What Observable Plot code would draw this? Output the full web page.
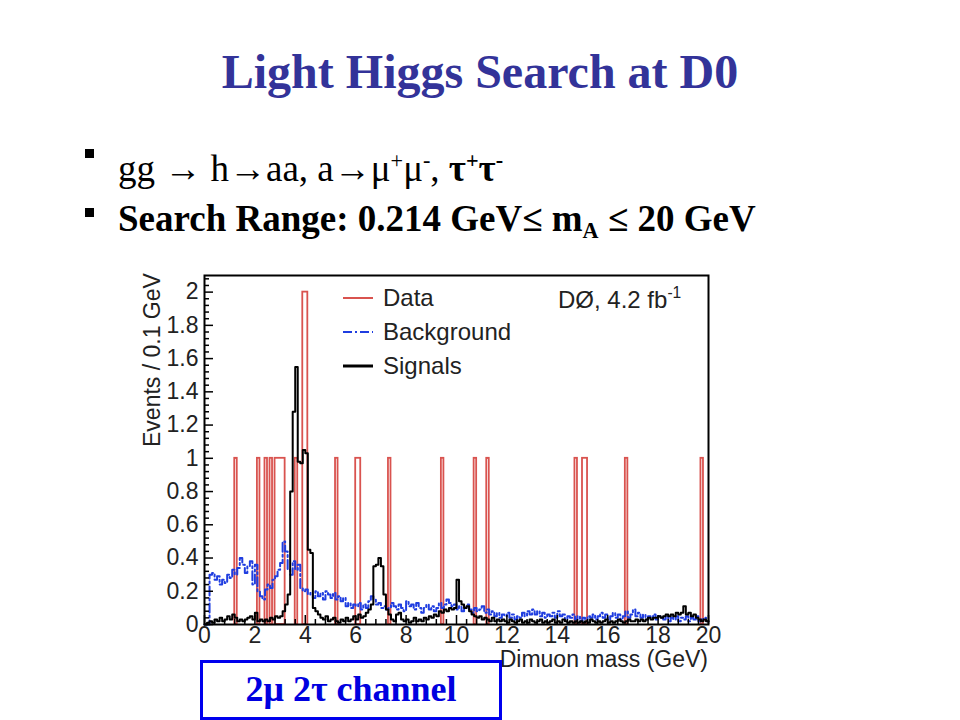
<!DOCTYPE html>
<html><head><meta charset="utf-8">
<script src="https://cdn.jsdelivr.net/npm/d3@7"></script>
<script src="https://cdn.jsdelivr.net/npm/@observablehq/plot@0.6"></script>
<style>
body{margin:0;background:#fff;}
#page{position:relative;width:960px;height:720px;overflow:hidden;background:#fff;font-family:"Liberation Serif","Times New Roman",serif;}
#title{position:absolute;left:0;width:960px;top:43px;text-align:center;font-weight:bold;font-size:48px;line-height:58px;color:#333399;}
.bullet{position:absolute;left:118px;font-size:37px;line-height:42px;color:#000;white-space:nowrap;}
.sq{position:absolute;width:9px;height:9px;background:#000;}
#chart{position:absolute;left:130px;top:265px;}
.lbl{position:absolute;font-family:"Liberation Sans",Arial,sans-serif;font-size:24px;line-height:24px;color:#222;white-space:nowrap;}
#ylab{left:140px;top:447px;width:170px;text-align:right;transform-origin:0 0;transform:rotate(-90deg);font-size:23px;}
#xlab{left:458px;top:647px;width:250px;text-align:right;font-size:23px;}
#box{position:absolute;left:200px;top:660px;width:302px;height:60px;box-sizing:border-box;border:3px solid #0000ee;background:#fff;text-align:center;font-weight:bold;font-size:36px;line-height:52px;color:#0000e0;}
.leg{position:absolute;}
</style></head><body>
<div id="page">
  <div id="title">Light Higgs Search at D0</div>
  <div class="sq" style="left:85px;top:149px;"></div>
  <div class="bullet" style="top:148px;">gg → h→aa, a→μ<sup style="font-size:60%;vertical-align:13px;line-height:0">+</sup>μ<sup style="font-size:60%;vertical-align:13px;line-height:0">-</sup>, <b>τ<sup style="font-size:60%;vertical-align:13px;line-height:0">+</sup>τ<sup style="font-size:60%;vertical-align:13px;line-height:0">-</sup></b></div>
  <div class="sq" style="left:85px;top:208px;"></div>
  <div class="bullet" style="top:198px;font-weight:bold;">Search Range: 0.214 GeV≤ m<sub style="font-size:60%;vertical-align:-7px;line-height:0">A</sub>  ≤ 20 GeV</div>
  <div id="chart"></div>
  <div class="lbl" id="ylab">Events / 0.1 GeV</div>
  <div class="lbl" id="xlab">Dimuon mass (GeV)</div>
  <svg class="leg" style="left:340px;top:285px;" width="36" height="95">
    <line x1="3" x2="33" y1="13" y2="13" stroke="#d9534f" stroke-width="2"/>
    <line x1="3" x2="33" y1="47" y2="47" stroke="#1f3de0" stroke-width="2" stroke-dasharray="9,3,2,3"/>
    <line x1="3" x2="33" y1="81" y2="81" stroke="#000" stroke-width="3"/>
  </svg>
  <div class="lbl" style="left:383px;top:286px;">Data</div>
  <div class="lbl" style="left:383px;top:320px;">Background</div>
  <div class="lbl" style="left:383px;top:354px;">Signals</div>
  <div class="lbl" style="left:558px;top:288px;">DØ, 4.2 fb<sup style="font-size:65%;vertical-align:10px;line-height:0">-1</sup></div>
  <div id="box">2μ 2τ channel</div>
</div>
<script>
// Bin width 0.1 GeV, bins from 0 to 20 GeV
const binWidth = 0.1;
const massMin = 0, massMax = 20;

// Data: runs of bins with events (low edge, high edge, events per bin)
const dataLo = [1.2, 2.1, 2.4, 2.6, 2.8, 3.6, 3.9, 5.2, 6.0, 7.3, 9.4, 10.7, 11.2, 14.7, 15.0, 16.7, 19.7];
const dataHi = [1.3, 2.2, 2.5, 2.7, 3.2, 3.7, 4.1, 5.3, 6.2, 7.4, 9.5, 10.8, 11.3, 14.8, 15.2, 16.8, 19.8];
const dataN  = [1, 1, 1, 1, 1, 1, 2, 1, 1, 1, 1, 1, 1, 1, 1, 1, 1];

// Background expectation per 0.1 GeV bin (200 bins)
const background = [
  0.00,0.00,0.30,0.31,0.27,0.29,0.24,0.27,0.25,0.30,
  0.28,0.33,0.30,0.34,0.40,0.36,0.31,0.35,0.38,0.24,
  0.36,0.20,0.17,0.15,0.21,0.24,0.22,0.27,0.29,0.33,
  0.37,0.50,0.44,0.33,0.30,0.38,0.33,0.36,0.22,0.20,
  0.21,0.18,0.19,0.16,0.20,0.17,0.19,0.15,0.20,0.18,
  0.16,0.19,0.15,0.17,0.14,0.16,0.11,0.13,0.10,0.12,
  0.11,0.13,0.09,0.12,0.10,0.14,0.17,0.15,0.12,0.13,
  0.10,0.11,0.09,0.10,0.13,0.11,0.09,0.12,0.10,0.08,
  0.14,0.11,0.12,0.09,0.13,0.10,0.07,0.10,0.12,0.09,
  0.11,0.08,0.10,0.13,0.10,0.12,0.15,0.13,0.11,0.12,
  0.09,0.11,0.08,0.10,0.12,0.09,0.07,0.10,0.08,0.09,
  0.11,0.07,0.09,0.06,0.08,0.05,0.07,0.04,0.06,0.05,
  0.07,0.04,0.06,0.03,0.05,0.04,0.07,0.05,0.08,0.06,
  0.09,0.06,0.08,0.05,0.07,0.04,0.06,0.05,0.07,0.04,
  0.08,0.05,0.06,0.03,0.05,0.04,0.06,0.03,0.05,0.02,
  0.04,0.03,0.05,0.04,0.06,0.03,0.05,0.07,0.04,0.06,
  0.03,0.05,0.07,0.04,0.06,0.03,0.05,0.08,0.04,0.06,
  0.09,0.05,0.07,0.04,0.06,0.03,0.05,0.04,0.06,0.03,
  0.05,0.04,0.03,0.05,0.02,0.04,0.03,0.05,0.02,0.04,
  0.03,0.05,0.02,0.04,0.03,0.05,0.02,0.03,0.04,0.02
];

// Signal expectation per 0.1 GeV bin (200 bins)
const signals = [
  0.00,0.01,0.02,0.01,0.03,0.02,0.04,0.02,0.03,0.05,
  0.03,0.06,0.04,0.02,0.03,0.02,0.03,0.04,0.05,0.03,
  0.07,0.02,0.03,0.02,0.03,0.02,0.04,0.03,0.05,0.04,
  0.05,0.08,0.12,0.18,0.80,1.28,1.55,0.98,0.97,1.05,
  1.03,0.45,0.43,0.10,0.08,0.06,0.04,0.03,0.05,0.02,
  0.03,0.04,0.02,0.01,0.03,0.02,0.04,0.02,0.03,0.05,
  0.03,0.06,0.04,0.05,0.07,0.09,0.12,0.35,0.36,0.40,
  0.35,0.18,0.09,0.06,0.03,0.02,0.06,0.07,0.03,0.02,
  0.03,0.01,0.02,0.04,0.02,0.03,0.02,0.04,0.03,0.05,
  0.04,0.06,0.05,0.08,0.07,0.09,0.08,0.10,0.09,0.10,
  0.27,0.14,0.12,0.10,0.11,0.08,0.06,0.05,0.04,0.05,
  0.03,0.04,0.03,0.02,0.04,0.02,0.03,0.02,0.03,0.02,
  0.01,0.03,0.02,0.01,0.02,0.03,0.01,0.02,0.01,0.03,
  0.02,0.01,0.02,0.03,0.01,0.02,0.01,0.02,0.03,0.01,
  0.02,0.01,0.03,0.02,0.01,0.02,0.01,0.02,0.01,0.02,
  0.01,0.02,0.01,0.03,0.02,0.01,0.02,0.01,0.02,0.03,
  0.01,0.02,0.01,0.02,0.03,0.02,0.01,0.02,0.03,0.02,
  0.02,0.03,0.02,0.03,0.02,0.03,0.04,0.03,0.04,0.04,
  0.05,0.04,0.05,0.06,0.05,0.06,0.05,0.07,0.06,0.07,
  0.11,0.06,0.07,0.05,0.06,0.04,0.03,0.02,0.03,0.02
];

// Tick values
const xMajor = [0, 2, 4, 6, 8, 10, 12, 14, 16, 18, 20];
const yMajor = [0, 0.2, 0.4, 0.6, 0.8, 1, 1.2, 1.4, 1.6, 1.8, 2];
const yMax = 2.1;

// Build tables for the library
const dataTable = dataLo.map((lo, i) => ({lo, hi: dataHi[i], n: dataN[i]}));
function stepTable(values) {
  const pts = values.map((v, i) => ({x: massMin + i * binWidth, y: v}));
  pts.push({x: massMax, y: values[values.length - 1]});
  return pts;
}
const bgTable = stepTable(background);
const sigTable = stepTable(signals);
const xMinor = d3.range(0, 20.0001, 0.4).filter(v => Math.abs(v / 2 - Math.round(v / 2)) > 1e-6);
const yMinor = d3.range(0, yMax + 1e-6, 0.04).filter(v => Math.abs(v / 0.2 - Math.round(v / 0.2)) > 1e-6);

const W = 600, H = 410, mL = 74, mR = 22, mT = 10, mB = 51;
const fw = W - mL - mR, fh = H - mT - mB;

const chart = Plot.plot({
  width: W, height: H,
  marginLeft: mL, marginRight: mR, marginTop: mT, marginBottom: mB,
  x: {domain: [massMin, massMax]},
  y: {domain: [0, yMax]},
  style: {fontFamily: "Liberation Sans, Arial, sans-serif", fontSize: "23px", color: "#222", background: "transparent"},
  marks: [
    Plot.rect(dataTable, {x1: "lo", x2: "hi", y1: 0, y2: "n", fill: "none", stroke: "#d9534f", strokeWidth: 1.8}),
    Plot.line(bgTable, {x: "x", y: "y", curve: "step-after", stroke: "#1f3de0", strokeWidth: 2, strokeDasharray: "9,3,2,3"}),
    Plot.line(sigTable, {x: "x", y: "y", curve: "step-after", stroke: "#000", strokeWidth: 2}),
    Plot.tickY(yMajor, {y: d => d, insetRight: fw - 9, stroke: "#000", strokeWidth: 1.5}),
    Plot.tickY(yMinor, {y: d => d, insetRight: fw - 5, stroke: "#000", strokeWidth: 1.5}),
    Plot.tickX(xMajor, {x: d => d, insetTop: fh - 9, stroke: "#000", strokeWidth: 1.5}),
    Plot.tickX(xMinor, {x: d => d, insetTop: fh - 5, stroke: "#000", strokeWidth: 1.5}),
    Plot.frame({stroke: "#000", strokeWidth: 2}),
    Plot.axisY(yMajor, {tickSize: 0, tickPadding: 6, tickFormat: d => String(+d.toFixed(1)), fontSize: 23, fill: "#222", label: null}),
    Plot.axisX(xMajor, {tickSize: 0, tickPadding: 2, tickFormat: d => String(d), fontSize: 23, fill: "#222", label: null})
  ]
});
document.getElementById("chart").appendChild(chart);
</script>
</body></html>
